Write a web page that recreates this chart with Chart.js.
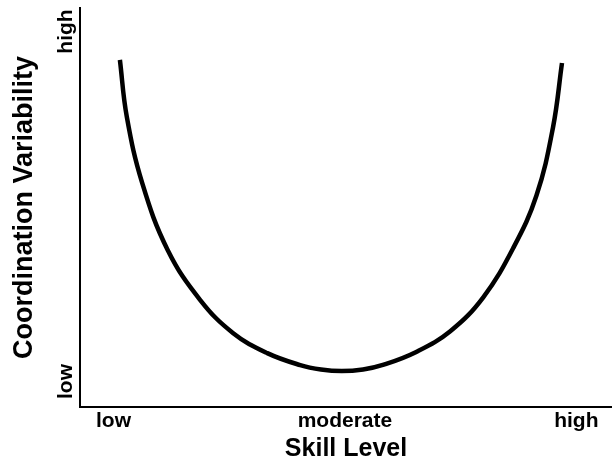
<!DOCTYPE html>
<html>
<head>
<meta charset="utf-8">
<script src="https://cdn.jsdelivr.net/npm/chart.js@4"></script>
<style>
  body { margin: 0; background: #fff; }
  #wrap { width: 612px; height: 470px; }
</style>
</head>
<body>
<div id="wrap"><canvas id="uChart" width="612" height="470"></canvas></div>
<script>
// skill level (x) vs coordination variability (y), both on 0-100 scales
const skill = [7.5, 8.8, 11.7, 16.5, 22.6, 28.8, 35.2, 41.4, 45.3, 49.2, 53.2, 57.1, 63.2, 69.6, 75.8, 81.5, 85.8, 88.9, 90.6];
const variability = [87.0, 72.7, 56.1, 39.3, 26.8, 18.5, 13.5, 10.5, 9.4, 9.0, 9.4, 10.6, 13.8, 19.0, 27.5, 40.0, 53.0, 70.0, 86.2];

const xTickValues = [6.3, 49.8, 93.3];
const xTickLabels = ["low", "moderate", "high"];
const yTickValues = [6.4, 94.1];
const yTickLabels = ["low", "high"];

const points = skill.map((x, i) => ({ x: x, y: variability[i] }));
const font = "'Liberation Sans', Arial, sans-serif";

const ctx = document.getElementById("uChart").getContext("2d");
const uChart = new Chart(ctx, {
  type: "line",
  data: {
    datasets: [
      {
        data: points,
        borderColor: "#000",
        borderWidth: 4.5,
        pointRadius: 0,
        fill: false,
        tension: 0.4,
      },
    ],
  },
  options: {
    responsive: false,
    animation: false,
    layout: { padding: { top: 8, right: 0, left: 0, bottom: 0 } },
    plugins: { legend: { display: false }, tooltip: { enabled: false } },
    scales: {
      x: {
        type: "linear",
        min: 0,
        max: 100,
        grid: { display: false, drawTicks: false },
        border: { display: true, color: "#000", width: 2 },
        afterBuildTicks: (scale) => {
          scale.ticks = xTickValues.map((v) => ({ value: v }));
        },
        afterFit: (scale) => {
          scale.height = 63;
        },
        ticks: {
          color: "#000",
          font: { family: font, size: 21, weight: "bold" },
          padding: 2,
          maxRotation: 0,
          callback: (v) => xTickLabels[xTickValues.indexOf(v)],
        },
        title: {
          display: true,
          text: "Skill Level",
          color: "#000",
          font: { family: font, size: 25, weight: "bold" },
          padding: { top: 0, bottom: 6 },
        },
      },
      y: {
        type: "linear",
        min: 0,
        max: 100,
        grid: { display: false, drawTicks: false },
        border: { display: true, color: "#000", width: 2 },
        afterBuildTicks: (scale) => {
          scale.ticks = yTickValues.map((v) => ({ value: v }));
        },
        afterFit: (scale) => {
          scale.width = 80;
        },
        ticks: {
          color: "#000",
          font: { family: font, size: 21, weight: "bold" },
          minRotation: 90,
          maxRotation: 90,
          crossAlign: "center",
          padding: -8,
          callback: (v) => yTickLabels[yTickValues.indexOf(v)],
        },
        title: {
          display: true,
          text: "Coordination Variability",
          color: "#000",
          font: { family: font, size: 27, weight: "bold" },
          padding: { top: 8, bottom: 0 },
        },
      },
    },
  },
});
</script>
</body>
</html>
